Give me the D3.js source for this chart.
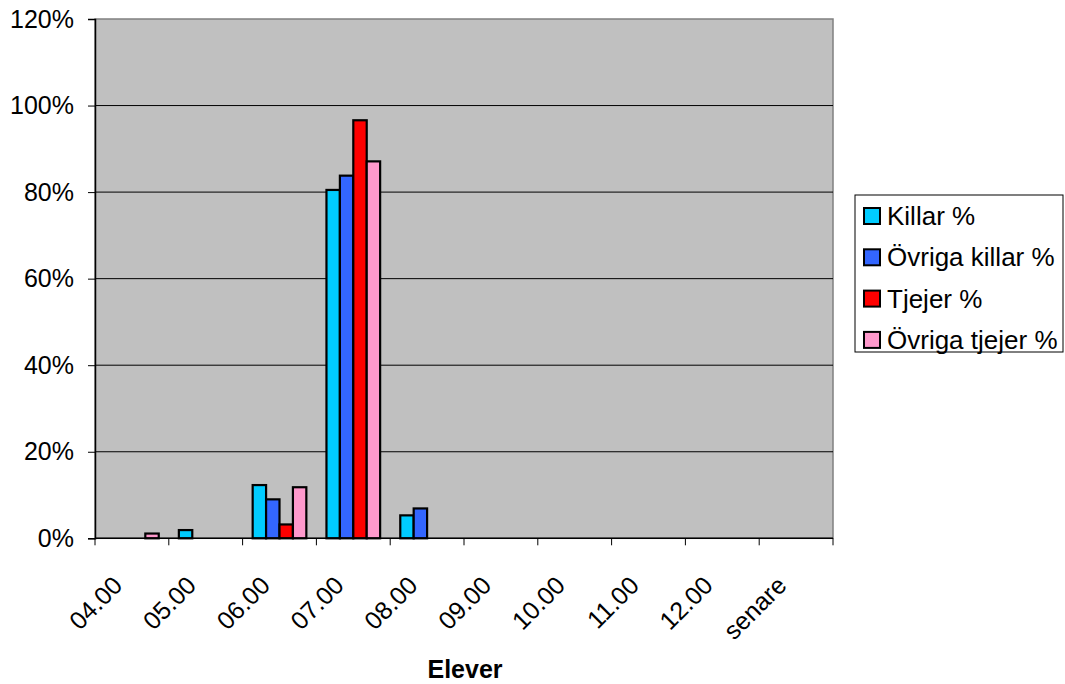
<!DOCTYPE html>
<html>
<head>
<meta charset="utf-8">
<script src="https://cdn.jsdelivr.net/npm/d3@7"></script>
<style>
  html, body { margin: 0; padding: 0; background: #fff; }
  svg { display: block; font-family: Arial, "Liberation Sans", sans-serif; }
</style>
</head>
<body>
<svg id="chart" width="1065" height="684"></svg>
<script>
// Categories (time of day) and the share per group
const categories = ["04.00", "05.00", "06.00", "07.00", "08.00", "09.00", "10.00", "11.00", "12.00", "senare"];
const seriesNames = ["Killar %", "Övriga killar %", "Tjejer %", "Övriga tjejer %"];
const killar        = [0,   1.9, 12.3, 80.5, 5.3, 0, 0, 0, 0, 0];
const ovrigaKillar  = [0,   0,   9.0,  83.8, 6.9, 0, 0, 0, 0, 0];
const tjejer        = [0,   0,   3.2,  96.6, 0,   0, 0, 0, 0, 0];
const ovrigaTjejer  = [1.1, 0,   11.8, 87.1, 0,   0, 0, 0, 0, 0];
const yTicks = [0, 20, 40, 60, 80, 100, 120];
const colors = ["#00CCFF", "#3366FF", "#FF0000", "#FF99CC"];

const seriesValues = [killar, ovrigaKillar, tjejer, ovrigaTjejer];

const svg = d3.select("#chart");
const plot = { left: 95, right: 833, top: 19, bottom: 538.3 };

const x0 = d3.scaleBand().domain(categories).range([plot.left, plot.right]).padding(0);
const step = x0.bandwidth();
const barW = step / (seriesNames.length + 1.5);
const x1 = d3.scaleBand().domain(d3.range(seriesNames.length))
  .range([barW * 0.75, barW * 0.75 + barW * seriesNames.length]).padding(0);
const y = d3.scaleLinear().domain([0, 120]).range([plot.bottom, plot.top]);

// plot background
svg.append("rect")
  .attr("x", plot.left).attr("y", plot.top)
  .attr("width", plot.right - plot.left).attr("height", plot.bottom - plot.top)
  .attr("fill", "#C0C0C0").attr("stroke", "#808080").attr("stroke-width", 1.5);

// horizontal gridlines
svg.append("g").selectAll("line").data(yTicks.filter(d => d > 0 && d < 120)).join("line")
  .attr("x1", plot.left).attr("x2", plot.right)
  .attr("y1", d => y(d)).attr("y2", d => y(d))
  .attr("stroke", "#000").attr("stroke-width", 1);

// bars
const groups = svg.append("g").selectAll("g").data(categories).join("g")
  .attr("transform", d => `translate(${x0(d)},0)`);
groups.selectAll("rect")
  .data((c, i) => seriesValues.map((vals, s) => ({ s, v: vals[i] })).filter(d => d.v > 0))
  .join("rect")
  .attr("x", d => x1(d.s)).attr("width", x1.bandwidth())
  .attr("y", d => y(d.v)).attr("height", d => y(0) - y(d.v))
  .attr("fill", d => colors[d.s]).attr("stroke", "#000").attr("stroke-width", 2.2);

// y axis
const yAxis = svg.append("g").attr("transform", `translate(${plot.left},0)`)
  .call(d3.axisLeft(y).tickValues(yTicks).tickFormat(d => d + "%").tickSize(7).tickPadding(14));
yAxis.select(".domain").attr("stroke", "#000").attr("stroke-width", 1.5);
yAxis.selectAll(".tick line").attr("stroke", "#000").attr("stroke-width", 1);
yAxis.selectAll(".tick text").attr("font-size", 25).attr("fill", "#000")
  .attr("font-family", "Arial, 'Liberation Sans', sans-serif");

// x axis baseline and boundary ticks
const xAxisG = svg.append("g");
xAxisG.append("line")
  .attr("x1", plot.left).attr("x2", plot.right)
  .attr("y1", plot.bottom).attr("y2", plot.bottom)
  .attr("stroke", "#000").attr("stroke-width", 1.5);
const bounds = categories.map(c => x0(c)).concat([x0(categories[categories.length - 1]) + step]);
xAxisG.selectAll("line.tk").data(bounds).join("line").attr("class", "tk")
  .attr("x1", d => d).attr("x2", d => d)
  .attr("y1", plot.bottom).attr("y2", plot.bottom + 7)
  .attr("stroke", "#000").attr("stroke-width", 1);
xAxisG.selectAll("text").data(categories).join("text")
  .attr("x", d => x0(d) + step / 2 - 8).attr("y", 587)
  .attr("text-anchor", "end")
  .attr("transform", d => `rotate(-45,${x0(d) + step / 2 - 8},587)`)
  .attr("font-size", 25).attr("fill", "#000")
  .text(d => d);

// axis title
svg.append("text")
  .attr("x", 465).attr("y", 678)
  .attr("text-anchor", "middle").attr("font-size", 25).attr("font-weight", "bold")
  .text("Elever");

// legend
const legend = svg.append("g");
legend.append("rect")
  .attr("x", 855).attr("y", 195).attr("width", 208).attr("height", 157)
  .attr("fill", "#fff").attr("stroke", "#000").attr("stroke-width", 1);
const items = legend.selectAll("g").data(seriesNames).join("g")
  .attr("transform", (d, i) => `translate(0,${216 + i * 41.3})`);
items.append("rect")
  .attr("x", 864).attr("y", -8).attr("width", 16).attr("height", 16)
  .attr("fill", (d, i) => colors[i]).attr("stroke", "#000").attr("stroke-width", 2);
items.append("text")
  .attr("x", 887).attr("y", 0).attr("dy", "0.35em")
  .attr("font-size", 26).attr("fill", "#000")
  .text(d => d);
</script>
</body>
</html>
